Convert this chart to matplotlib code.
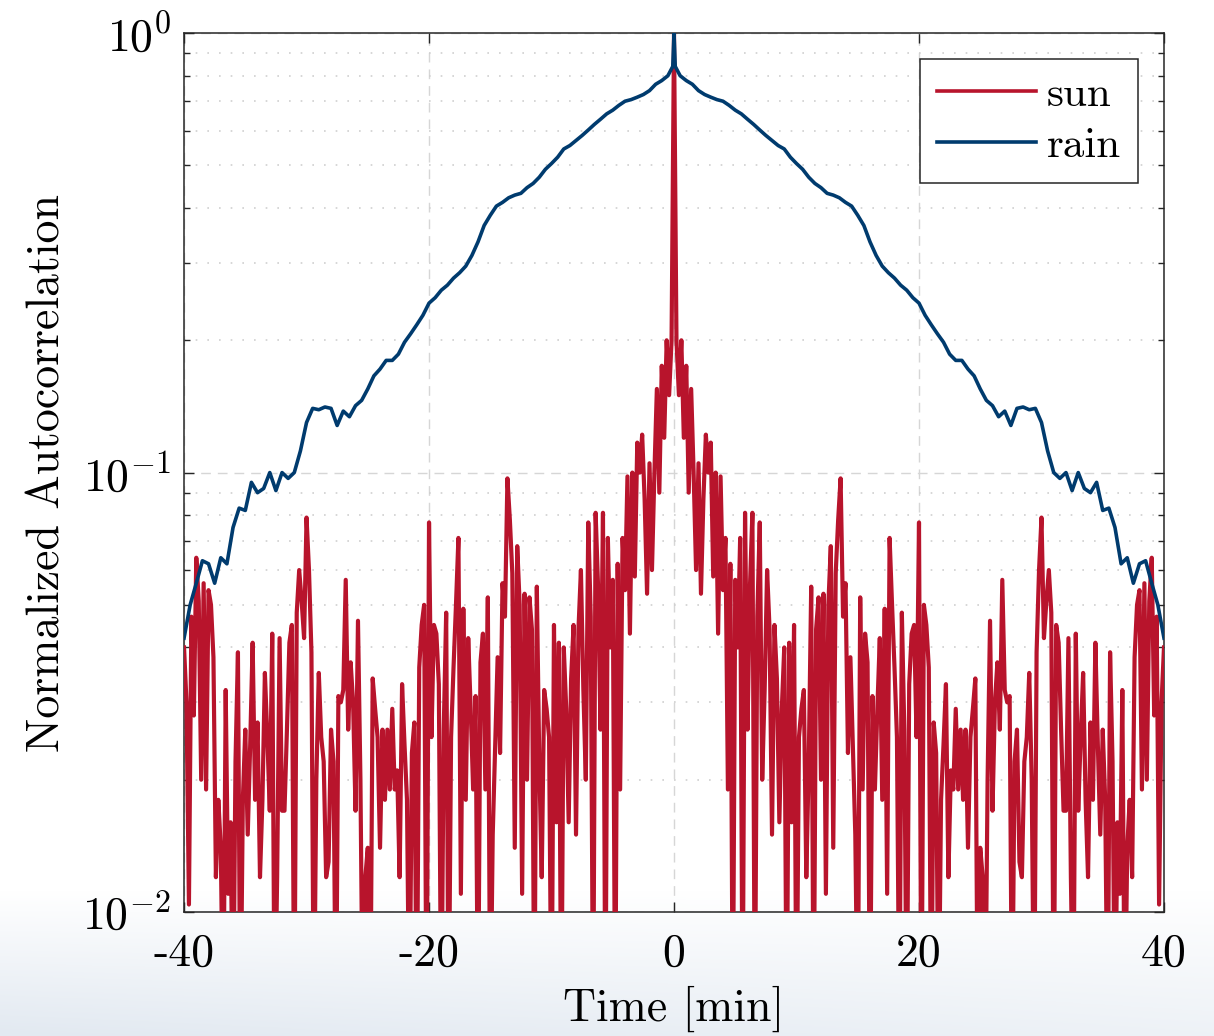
import numpy as np
import matplotlib
matplotlib.use('Agg')
import matplotlib.pyplot as plt

plt.rcParams['font.family'] = 'cmr10'
plt.rcParams['mathtext.fontset'] = 'cm'
plt.rcParams['axes.unicode_minus'] = False

# one-sided lags [min]; autocorrelation is symmetric so the negative side is mirrored
sun_lag = np.round(np.arange(0, 40.01, 0.2), 1)
sun_vals = [
    1.0, 0.20, 0.15, 0.20, 0.12, 0.175, 0.09, 0.155, 0.1, 0.06,
    0.105, 0.053, 0.087, 0.122, 0.10, 0.117, 0.058, 0.1, 0.043, 0.098,
    0.054, 0.071, 0.019, 0.062, 0.005, 0.057, 0.04, 0.071, 0.005, 0.081,
    0.026, 0.055, 0.081, 0.005, 0.047, 0.077, 0.02, 0.032, 0.06, 0.044,
    0.015,
    0.045, 0.034, 0.016, 0.029, 0.04, 0.005, 0.041, 0.016, 0.045, 0.005,
    0.025, 0.029, 0.032, 0.012, 0.022, 0.055, 0.005, 0.044, 0.052, 0.02,
    0.053, 0.011, 0.05, 0.068, 0.014, 0.059, 0.078, 0.097, 0.047, 0.056,
    0.023, 0.038, 0.024, 0.015, 0.005, 0.052, 0.019, 0.043, 0.037, 0.005,
    0.031, 0.019, 0.029, 0.042, 0.018, 0.049, 0.011, 0.071, 0.05, 0.036,
    0.025, 0.005, 0.048, 0.026, 0.005, 0.033, 0.043, 0.045, 0.025, 0.077,
    0.005, 0.05, 0.045, 0.036, 0.005, 0.027, 0.023, 0.005, 0.018, 0.024,
    0.033, 0.012, 0.021, 0.019, 0.029, 0.019, 0.026, 0.018, 0.026, 0.014,
    0.025, 0.029, 0.034, 0.005, 0.014, 0.012, 0.005, 0.02, 0.046, 0.017,
    0.03, 0.037, 0.026, 0.057, 0.032, 0.03, 0.031, 0.005, 0.022, 0.026,
    0.013, 0.012, 0.022, 0.025, 0.035, 0.02, 0.005, 0.039, 0.06, 0.079,
    0.042, 0.051, 0.06, 0.048, 0.005, 0.045, 0.041, 0.026, 0.017, 0.017,
    0.042, 0.012, 0.005, 0.043, 0.017, 0.025, 0.035, 0.018, 0.012, 0.027,
    0.018, 0.041, 0.024, 0.015, 0.026, 0.018, 0.005, 0.039, 0.022, 0.005,
    0.016, 0.011, 0.032, 0.005, 0.014, 0.018, 0.012, 0.038, 0.05, 0.054,
    0.019, 0.056, 0.02, 0.051, 0.064, 0.028, 0.047, 0.0104, 0.03, 0.04,
]

rain_lag = [0, 0.1] + [0.5 * k for k in range(1, 81)]
rain_vals = [
    1.0, 0.84,
    0.80, 0.78, 0.765, 0.74, 0.725, 0.715, 0.706, 0.70, 0.685, 0.668,
    0.655, 0.637, 0.62, 0.602, 0.585, 0.57, 0.555, 0.545, 0.522, 0.505,
    0.49, 0.47, 0.455, 0.445, 0.432, 0.428, 0.422, 0.412, 0.404, 0.385,
    0.365, 0.335, 0.312, 0.295, 0.285, 0.277, 0.267, 0.26, 0.25, 0.243,
    0.228, 0.217, 0.207, 0.198, 0.186, 0.18, 0.18, 0.172, 0.166, 0.155,
    0.146, 0.142, 0.134, 0.138, 0.128, 0.14, 0.141, 0.139, 0.14, 0.13,
    0.112, 0.1, 0.097, 0.1, 0.091, 0.1, 0.092, 0.09, 0.095, 0.082,
    0.083, 0.075, 0.062, 0.064, 0.056, 0.062, 0.063, 0.056, 0.05, 0.042,
]


def mirror(lag, vals):
    lag = np.asarray(lag, dtype=float)
    vals = np.asarray(vals, dtype=float)
    return np.concatenate([-lag[::-1], lag[1:]]), np.concatenate([vals[::-1], vals[1:]])


sun_t, sun_y = mirror(sun_lag, sun_vals)
rain_t, rain_y = mirror(rain_lag, rain_vals)

fig = plt.figure(figsize=(12.14, 10.36), dpi=100)

# faint background tint at the bottom of the page
bg = fig.add_axes([0, 0, 1, 0.14], zorder=-5)
grad = np.linspace(0, 1, 100).reshape(-1, 1) * np.ones((1, 200))
grad = grad * np.linspace(1.0, 0.6, 200).reshape(1, -1)
bg.imshow(grad, aspect='auto', cmap=matplotlib.colors.LinearSegmentedColormap.from_list(
    'bgc', ['#ffffff', '#e2e9f1']), origin='upper', vmin=0, vmax=1)
bg.axis('off')

ax = fig.add_axes([0.1516, 0.1197, 0.8072, 0.8483])
ax.set_facecolor('none')

ax.plot(sun_t, sun_y, color='#b8142c', lw=3.0, label='sun', zorder=3)
ax.plot(rain_t, rain_y, color='#003b6e', lw=2.6, label='rain', zorder=4)

ax.set_yscale('log')
ax.set_xlim(-40, 40)
ax.set_ylim(1e-2, 1)
ax.set_xticks([-40, -20, 0, 20, 40])
ax.set_xticklabels(['-40', '-20', '0', '20', '40'])
ax.set_yticks([1e-2, 1e-1, 1])
ax.set_yticklabels([r'$10^{-2}$', r'$10^{-1}$', r'$10^{0}$'])
ax.tick_params(which='both', direction='in', top=True, right=True, labelsize=33,
               color='#262626')
ax.tick_params(which='major', length=7, width=1, pad=9)
ax.tick_params(axis='x', which='major', pad=15)
ax.tick_params(which='minor', length=4.5, width=1)
ax.tick_params(axis='x', which='minor', bottom=False, top=False)

ax.grid(which='major', axis='both', color='#d6d6d6', linestyle=(0, (7, 5)), lw=1)
ax.grid(which='minor', axis='y', color='#cfcfcf', linestyle=(0, (1, 6)), lw=1.2)
ax.set_axisbelow(True)
for s in ax.spines.values():
    s.set_color('#262626')
    s.set_linewidth(1.1)

ax.set_xlabel('Time [min]', fontsize=33, labelpad=8)
ax.set_ylabel('Normalized Autocorrelation', fontsize=33, labelpad=10)

leg = ax.legend(loc='upper right', fontsize=31, fancybox=False, framealpha=1,
                edgecolor='#262626', handlelength=2.3, handletextpad=0.25,
                borderpad=0.4, labelspacing=0.3, borderaxespad=0.6)
leg.get_frame().set_linewidth(1.1)
for h in leg.get_lines():
    h.set_linewidth(2.6)

fig.savefig('out.png', dpi=100)
